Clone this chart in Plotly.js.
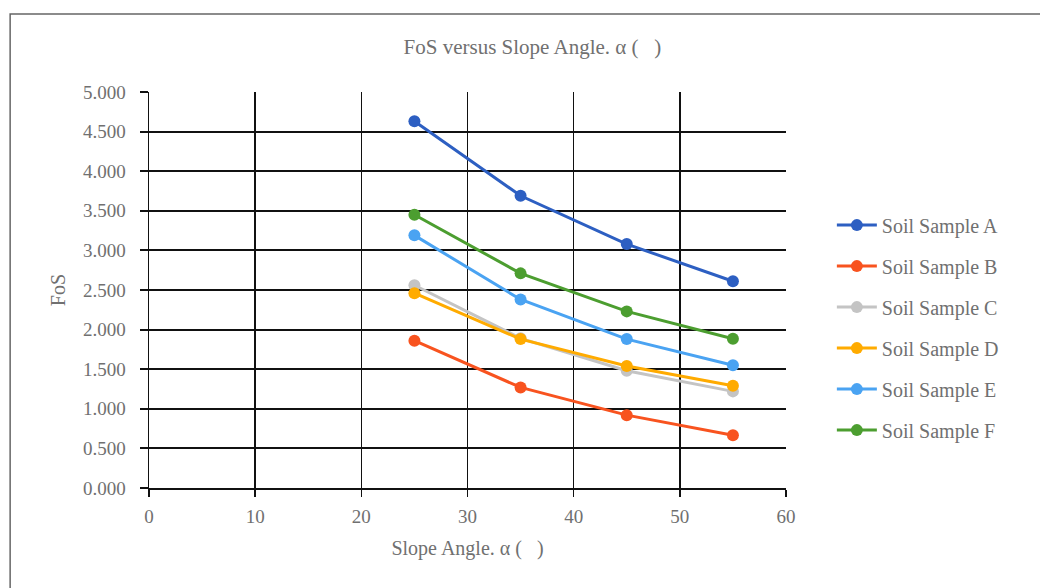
<!DOCTYPE html>
<html>
<head>
<meta charset="utf-8">
<script src="https://cdn.plot.ly/plotly-3.0.1.min.js"></script>
<style>html,body{margin:0;padding:0;background:#fff;}#chart{width:1040px;height:588px;}</style>
</head>
<body>
<div id="chart"></div>
<script>
const slopeAngles = [25, 35, 45, 55];
const seriesNames = ["Soil Sample A", "Soil Sample B", "Soil Sample C", "Soil Sample D", "Soil Sample E", "Soil Sample F"];
const sampleA = [4.63, 3.69, 3.08, 2.61];
const sampleB = [1.86, 1.27, 0.92, 0.665];
const sampleC = [2.56, 1.89, 1.48, 1.22];
const sampleD = [2.46, 1.88, 1.54, 1.29];
const sampleE = [3.19, 2.38, 1.88, 1.55];
const sampleF = [3.45, 2.71, 2.23, 1.885];
const yTickVals = [0, 0.5, 1, 1.5, 2, 2.5, 3, 3.5, 4, 4.5, 5];
const xTickVals = [0, 10, 20, 30, 40, 50, 60];

const seriesValues = [sampleA, sampleB, sampleC, sampleD, sampleE, sampleF];
const colors = ["#2d5fc2", "#f8531f", "#c4c4c4", "#ffab00", "#4aa3f2", "#4c9e30"];

const traces = seriesValues.map((vals, i) => ({
  x: slopeAngles,
  y: vals,
  name: seriesNames[i],
  legendgroup: "g" + i,
  type: "scatter",
  mode: "lines+markers",
  line: {color: colors[i], width: 3},
  marker: {color: colors[i], size: 12}
}));

const serif = "Liberation Serif, Times New Roman, serif";
const grey = "#707070";
const layout = {
  width: 1040, height: 588,
  margin: {l: 149, r: 254, t: 92, b: 100},
  paper_bgcolor: "#ffffff",
  plot_bgcolor: "#ffffff",
  showlegend: true,
  title: {text: "FoS versus Slope Angle. α (   )", x: 0.512, xanchor: "center", y: 0.92, yanchor: "middle",
          font: {family: serif, size: 21, color: grey}},
  xaxis: {
    range: [0, 60], tickvals: xTickVals, ticktext: xTickVals.map(String),
    showgrid: true, gridcolor: "#111111", gridwidth: 1.5,
    showline: true, linecolor: "#111111", linewidth: 1.5,
    ticks: "outside", ticklen: 7, tickcolor: "#111111", tickwidth: 1.5,
    ticklabelstandoff: 4,
    zeroline: false, fixedrange: true,
    tickfont: {family: serif, size: 19, color: grey},
    title: {text: "Slope Angle. α (   )", font: {family: serif, size: 20, color: grey}, standoff: 14}
  },
  yaxis: {
    range: [0, 5], tickvals: yTickVals, ticktext: yTickVals.map(v => v.toFixed(3)),
    showgrid: true, gridcolor: "#111111", gridwidth: 2,
    showline: true, linecolor: "#111111", linewidth: 1.5,
    ticks: "outside", ticklen: 8, tickcolor: "#111111", tickwidth: 2,
    ticklabelstandoff: 10,
    zeroline: false, fixedrange: true,
    tickfont: {family: serif, size: 19, color: grey},
    title: {text: "FoS", font: {family: serif, size: 20, color: grey}, standoff: 12}
  },
  legend: {
    x: 1.072, xanchor: "left", y: 0.405, yanchor: "middle",
    font: {family: serif, size: 20, color: grey},
    tracegroupgap: 12, itemwidth: 40,
    bgcolor: "rgba(0,0,0,0)"
  },
  shapes: [{
    type: "rect", xref: "paper", yref: "paper",
    x0: -0.218, x1: 1.45, y0: -0.35, y1: 1.197,
    line: {color: "#666666", width: 1.5}, fillcolor: "rgba(0,0,0,0)", layer: "below"
  }]
};

Plotly.newPlot("chart", traces, layout, {displayModeBar: false, staticPlot: true});
</script>
</body>
</html>
